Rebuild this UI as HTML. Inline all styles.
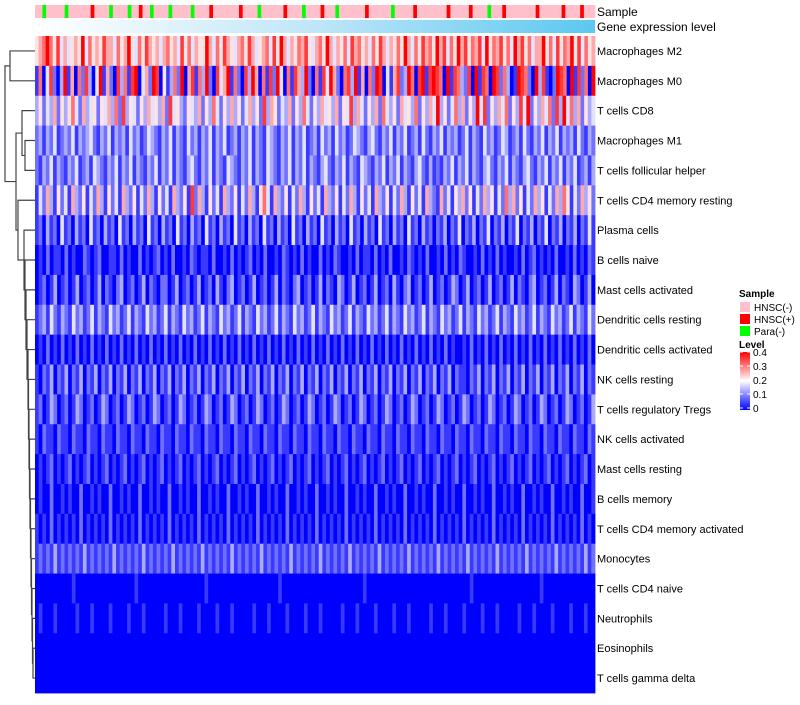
<!DOCTYPE html>
<html><head><meta charset="utf-8">
<style>
body{margin:0;background:#fff;width:800px;height:700px;overflow:hidden;font-family:"Liberation Sans",sans-serif}
svg text{font-family:"Liberation Sans",sans-serif}
</style></head>
<body>
<svg id="chart" width="800" height="700" xmlns="http://www.w3.org/2000/svg"></svg>
<script>
const rowLabels=["Macrophages M2","Macrophages M0","T cells CD8","Macrophages M1","T cells follicular helper","T cells CD4 memory resting","Plasma cells","B cells naive","Mast cells activated","Dendritic cells resting","Dendritic cells activated","NK cells resting","T cells regulatory  Tregs","NK cells activated","Mast cells resting","B cells memory","T cells CD4 memory activated","Monocytes","T cells CD4 naive","Neutrophils","Eosinophils","T cells gamma delta"];
// each digit d -> level d/9*0.4
const rowValues=[
"56797584645659475658664756954758656467564857465596475865467586456748596465768546759646574867564758646575964758675968475968576849576857496857466957485769584756",
"17048203916072830491620837189046298051372906817392084691720839607182940718639207184962078391607298041682397089189870918732809187098273019872093810298709182709",
"35243625357426345254637283542536453628453254362537425363524635283652436253742536453625483642536274352645372536493524736253948253647253849253647283947362534",
"23132412324132342132413231423124321324132142313241324123132413214321324132412314231423124321342132413241231421324132312413214231243123142132413241323142132",
"21324132132412314321324132413213241324132134213241321432132413214321324132413213421324132143213241324132134213121324132413213421324132134213241324132412313",
"14263152416325142631524163251426315241632518263152416325142631574163251426315241632514263152416325142631524163216241536251426351427362514263514263751426352",
"12031204120312041203120412031204120312041203120412031204120312041203120412031204120312041203120412031204120312021302140213021402130214021302140213021302141",
"01020110201002101200110201002010120102001021011020010201012010200102101020100201021001020110201020010210102001020102100102010201001020120101020010201021",
"01201301201301201302102301201302102201301201301203102301201301201302102301201302103201301201301203102301201301201320130120130120130210230120130210320130",
"12314213214231241321423124132142312413214231241321423124132142312413214231241321423124132142312413214231241321423124132142312413214231241321423124132142",
"01020102010201020102010201020102010201020102010201020102010201020102010201020102010201020102010201020102010201020100102010201020102010201020102010201020",
"10213021302130213021302130213021302130213021302130213021302130213021302130213021302130213021302130213021302130213021102130213021302130213021302130213021",
"12013201201320120132012013201201320120132012013201201320120132012013201201320120132012013201201320120132012013201201320120132012013201201320120132012013",
"10211021102110211021102110211021102110211021102110211021102110211021102110211021102110211021102110211021102110211021102110211021102110211021102110211021",
"01012010120101201012010120101201012010120101201012010120101201012010120101201012010120101201012010120101201012010120101201012010120101201012010120101201",
"01002001010020010100200101002001010020010100200101002001010020010100200101002001010020010100200101002001010020010100200101002001010020010100200101002001",
"10102010101020101010201010102010101020101010201010102010101020101010201010102010101020101010201010102010101020101010201010102010101020101010201010102010",
"12121312121213121212131212121312121213121212131212121312121213121212131212121312121213121212131212121312121213121212131212121312121213121212131212121312",
"00000000001000000000000000010000000000000000001000000000000000000010000000000000000000000100000000000000000000000000001000000000000000000100000000000000",
"01000100000100010000100001000100000100010000100001000100000100010000100001000100000100010000100001000100000100010000100001000100000100010000100001000100",
"00000000000000000000000000000000000000000000000000000000000000000000000000000000000000000000000000000000000000000000000000000000000000000000000000000000",
"00000000000000000000000000000000000000000000000000000000000000000000000000000000000000000000000000000000000000000000000000000000000000000000000000000000"
];
// n = HNSC(-), p = HNSC(+), g = Para(-)
const sampleCodes="nngnnnnngnnnnnnpnnnngnnnngnnpnngnnnngnnnnngnnnnpnnnnnnnpnnnngnnnnnnpnnnngnnnnpnnngnnnnnnnpnnnnnngnnnnnpnnnnnnnnpnnnnnpnnnngnnnpnnnnnnnnpnnnnnnpnnnnpnnn";
const legendSample=["HNSC(-)","HNSC(+)","Para(-)"];
const levelTicks=[0.4,0.3,0.2,0.1,0];

const svg=document.getElementById('chart');
const NS="http://www.w3.org/2000/svg";
function mk(tag,attrs,parent){const e=document.createElementNS(NS,tag);for(const k in attrs)e.setAttribute(k,attrs[k]);(parent||svg).appendChild(e);return e;}
const X0=35,X1=595,Y0=36,Y1=693,RH=(Y1-Y0)/rowLabels.length;
function col(v){const t=Math.max(0,Math.min(1,v/0.4));let r,g,b;
 if(t<0.5){const u=t/0.5;r=Math.round(255*u);g=r;b=255;}else{const u=(t-0.5)/0.5;r=255;g=Math.round(255*(1-u));b=g;}
 return `rgb(${r},${g},${b})`;}
const sc={n:"#FFC0CB",p:"#FF0000",g:"#00FF00"};
const sampleG=mk('g',{});


const sw=(X1-X0)/sampleCodes.length;
for(let i=0;i<sampleCodes.length;i++){const r=mk('rect',{x:X0+i*sw,y:5,width:sw+0.3,height:13,fill:sc[sampleCodes[i]]},sampleG);
 }
const defs=mk('defs',{});
const lg=mk('linearGradient',{id:'ge',x1:0,x2:1,y1:0,y2:0},defs);
mk('stop',{offset:0,'stop-color':'#ffffff'},lg);mk('stop',{offset:0.5,'stop-color':'#bfe6f8'},lg);mk('stop',{offset:1,'stop-color':'#5CC8F0'},lg);
const ge=mk('rect',{x:X0,y:20,width:X1-X0,height:13,fill:'url(#ge)'});

mk('text',{x:597,y:16,'font-size':12},svg).textContent="Sample";
mk('text',{x:597,y:31,'font-size':12},svg).textContent="Gene expression level";
const hm=mk('g',{});

rowValues.forEach((s,ri)=>{const w=(X1-X0)/s.length;const y=Y0+ri*RH;
 for(let c=0;c<s.length;c++){const r=mk('rect',{x:X0+c*w,y:y,width:w+0.4,height:RH+0.4,fill:col(+s[c]/9*0.4)},hm);
  }
 const t=mk('text',{x:597,y:y+RH/2+4,'font-size':11},svg);t.textContent=rowLabels[ri];
 });
// dendrogram
const dg=mk('g',{stroke:'#444','stroke-width':1.2,fill:'none'});

const yc=i=>Y0+(i+0.5)*RH;
function join(a,b,x){mk('path',{d:`M${a.x},${a.y}H${x}V${b.y}H${b.x}`},dg);return {x:x,y:(a.y+b.y)/2};}
const leaf=i=>({x:X0,y:yc(i)});
const A=join(leaf(0),leaf(1),10);
const B=join(leaf(2),join(leaf(3),leaf(4),25),22);
let n=join(leaf(20),leaf(21),33);
const xs=[32.5,32,31.5,31,30.5,30,29.5,29,28.5,28,27,26,25,24];
for(let i=19,k=0;i>=6;i--,k++){n=join(leaf(i),n,xs[k]);}
const C=join(leaf(5),n,18);
const D=join(B,C,16);
join(A,D,5);
// legend
const lgG=mk('g',{});

mk('text',{x:739,y:297,'font-size':10,'font-weight':'bold'},lgG).textContent="Sample";
legendSample.forEach((l,i)=>{const r=mk('rect',{x:740,y:302+i*12,width:10,height:10,fill:[sc.n,sc.p,sc.g][i]},lgG);
 
 mk('text',{x:754,y:311+i*12,'font-size':10},lgG).textContent=l;});
mk('text',{x:739,y:348,'font-size':10,'font-weight':'bold'},lgG).textContent="Level";
const lg2=mk('linearGradient',{id:'lv',x1:0,x2:0,y1:0,y2:1},defs);
mk('stop',{offset:0,'stop-color':'#ff0000'},lg2);mk('stop',{offset:0.5,'stop-color':'#ffffff'},lg2);mk('stop',{offset:1,'stop-color':'#0000ff'},lg2);
mk('rect',{x:740,y:352,width:10,height:58,fill:'url(#lv)'},lgG);
levelTicks.forEach(v=>{const y=352+(0.4-v)/0.4*56;
 mk('text',{x:753,y:y+4,'font-size':10},lgG).textContent=String(v);
 mk('line',{x1:740,x2:743,y1:y,y2:y,stroke:'#fff'},lgG);mk('line',{x1:747,x2:750,y1:y,y2:y,stroke:'#fff'},lgG);});
</script>
</body></html>
